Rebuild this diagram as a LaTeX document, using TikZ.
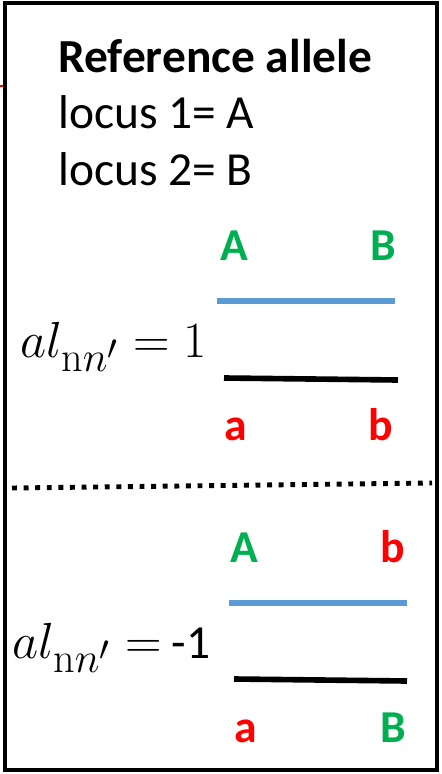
\documentclass[tikz,border=0pt]{standalone}
\usepackage{amsmath}
\usepackage{graphicx}
\usepackage[no-math]{fontspec}
\setmainfont{Carlito}
\usepackage{xcolor}
\usetikzlibrary{positioning}

\definecolor{allelG}{HTML}{00B050}
\definecolor{allelR}{HTML}{FF0000}
\definecolor{hapblue}{HTML}{5B9BD5}

\newcommand{\alnn}{al_{\mathrm{n}n'}}

\begin{document}
\begin{tikzpicture}[
  x=0.02cm, y=-0.02cm,
  font=\fontsize{27}{32}\selectfont,
  txt/.style={anchor=base west, inner sep=0pt},
  eqn/.style={anchor=base west, inner sep=0pt, font=\fontsize{24.88}{30}\selectfont},
  refal/.style={anchor=base, inner sep=0pt, font=\fontsize{26}{30}\selectfont\bfseries, text=allelG},
  altal/.style={refal, text=allelR},
  hapup/.style={draw=hapblue, line width=3pt},
  hapdn/.style={draw=black, line width=3.2pt},
  frame/.style={draw=black, line width=2.3pt},
]
\useasboundingbox (0,0) rectangle (441,774);

%% ---- outer frame and the stray red tick on the left ----
\draw[frame] (5,3) rectangle (437,770);
\draw[allelR, line width=1pt] (0,86) -- (3,86);

%% ---- header ----
\node[txt, font=\fontsize{27}{32}\selectfont\bfseries] (head) at (58,72) {Reference allele};
\node[txt] (loc1) at (58,128) {locus 1= A};
\node[txt] (loc2) at (58,185) {locus 2= B};

%% ---- (1) both reference alleles on one haplotype ----
\begin{scope}
  \coordinate (u1l) at (217,301); \coordinate (u1r) at (395,301);
  \coordinate (d1l) at (224,378); \coordinate (d1r) at (398,380);
  \node[refal] (A1) at (234,260) {A};
  \node[refal] (B1) at (383,260) {B};
  \draw[hapup] (u1l) -- (u1r);
  \draw[hapdn] (d1l) -- (d1r);
  \node[altal] (a1) at (236,440) {a};
  \node[altal] (b1) at (381,440) {b};
  \node[eqn] (eq1) at (20,357) {\scalebox{1.16}{$\alnn = 1$}};
\end{scope}

%% ---- separator ----
\coordinate (sepl) at (12,488);
\coordinate (sepr) at (432,483);
\draw[line width=2.8pt, dash pattern=on 2.8pt off 3.8pt] (sepl) -- (sepr);

%% ---- (2) reference alleles split over the two haplotypes ----
\begin{scope}
  \coordinate (u2l) at (229,603); \coordinate (u2r) at (407,603);
  \coordinate (d2l) at (234,679); \coordinate (d2r) at (407,681);
  \node[refal] (A2) at (244,562) {A};
  \node[altal] (b2) at (393,562) {b};
  \draw[hapup] (u2l) -- (u2r);
  \draw[hapdn] (d2l) -- (d2r);
  \node[altal] (a2) at (246,742) {a};
  \node[refal] (B2) at (393,742) {B};
  \node[eqn] (eq2) at (12,658) {\scalebox{1.16}{$\alnn =$}\ {\fontsize{27}{32}\selectfont -1}};
\end{scope}
\end{tikzpicture}
\end{document}
